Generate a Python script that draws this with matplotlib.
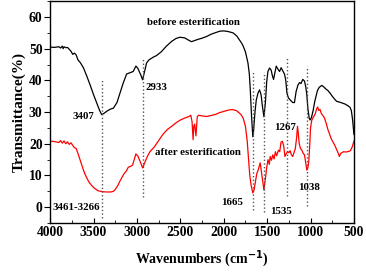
import matplotlib.pyplot as plt
from matplotlib.ticker import MultipleLocator

# before esterification (black)
wn_before = [4000, 3950, 3900, 3880, 3860, 3850, 3840, 3820, 3800, 3780, 3760, 3740, 3720, 3700,
             3680, 3650, 3617, 3580, 3540, 3500, 3464, 3430, 3407, 3380, 3340, 3300, 3272, 3230,
             3196, 3160, 3119, 3080, 3043, 3012, 2990, 2960, 2935, 2910, 2889, 2860, 2830, 2800,
             2775, 2720, 2660, 2600, 2550, 2506, 2450, 2400, 2372, 2340, 2300, 2250, 2200, 2150,
             2100, 2046, 2000, 1950, 1894, 1850, 1800, 1779, 1750, 1721, 1705, 1694, 1680, 1665,
             1655, 1640, 1625, 1605, 1587, 1570, 1555, 1537, 1520, 1505, 1491, 1472, 1453, 1440,
             1426, 1410, 1395, 1375, 1357, 1338, 1320, 1300, 1285, 1272, 1255, 1240, 1220, 1204,
             1185, 1166, 1145, 1127, 1110, 1089, 1070, 1055, 1043, 1030, 1015, 1005, 990, 970,
             950, 920, 900, 870, 850, 820, 800, 770, 750, 720, 700, 650, 600, 570, 545, 530, 515, 500]
t_before = [50.5, 50.4, 50.6, 50.2, 50.8, 50.0, 50.6, 50.3, 50.4, 49.8, 49.2, 48.2, 48.6, 48.0,
            46.5, 45.5, 44.0, 41.5, 38.6, 35.5, 32.9, 30.5, 29.2, 29.6, 30.4, 31.0, 31.2, 33.0,
            35.9, 39.0, 42.0, 42.4, 42.8, 44.5, 43.8, 42.0, 40.2, 43.0, 45.5, 46.5, 47.0, 47.5,
            47.8, 49.0, 50.8, 52.3, 53.2, 53.6, 53.4, 52.6, 52.2, 52.5, 52.9, 53.3, 53.8, 54.5,
            55.0, 55.5, 55.6, 55.4, 55.0, 54.0, 52.0, 51.0, 49.0, 45.5, 42.0, 37.0, 29.0, 22.2,
            24.5, 30.0, 33.8, 36.0, 37.0, 35.5, 32.0, 28.5, 33.0, 39.5, 42.8, 43.9, 43.2, 41.5,
            40.3, 42.5, 44.5, 43.5, 42.8, 44.0, 43.0, 42.0, 40.0, 36.0, 34.5, 34.0, 33.4, 33.0,
            33.0, 36.5, 38.5, 39.3, 39.0, 40.3, 39.8, 38.0, 35.5, 31.0, 28.0, 27.5, 28.2, 30.5,
            33.5, 36.8, 37.8, 38.4, 38.0, 37.2, 36.8, 35.8, 35.0, 34.0, 33.4, 33.0, 32.5, 32.0,
            31.5, 30.5, 27.5, 23.0]

# after esterification (red)
wn_after = [4000, 3950, 3900, 3880, 3860, 3840, 3820, 3800, 3780, 3760, 3740, 3720, 3700, 3680,
            3650, 3620, 3600, 3570, 3550, 3520, 3500, 3470, 3450, 3420, 3400, 3350, 3300, 3270,
            3250, 3220, 3200, 3170, 3150, 3120, 3100, 3070, 3050, 3030, 3012, 2990, 2960, 2935,
            2910, 2880, 2850, 2820, 2800, 2750, 2700, 2650, 2600, 2550, 2500, 2450, 2400, 2380,
            2365, 2353, 2345, 2335, 2320, 2305, 2290, 2250, 2200, 2150, 2100, 2050, 2000, 1950,
            1900, 1850, 1800, 1775, 1750, 1730, 1715, 1700, 1685, 1665, 1650, 1635, 1620, 1600,
            1580, 1565, 1550, 1537, 1520, 1505, 1490, 1475, 1465, 1450, 1435, 1420, 1405, 1390,
            1370, 1355, 1340, 1325, 1310, 1295, 1280, 1265, 1250, 1235, 1220, 1205, 1190, 1175,
            1160, 1150, 1140, 1130, 1115, 1100, 1085, 1070, 1055, 1043, 1030, 1020, 1010, 1000,
            985, 965, 945, 930, 917, 905, 890, 875, 860, 840, 820, 800, 780,
            760, 740, 720, 700, 680, 668, 650, 620, 590, 560, 540, 520, 500]
t_after = [20.8, 20.7, 20.4, 21.0, 20.2, 20.9, 20.0, 20.6, 19.8, 20.3, 19.5, 18.8, 18.5, 17.0,
           14.5, 12.0, 10.5, 8.8, 7.8, 6.8, 6.2, 5.6, 5.2, 5.0, 4.9, 4.8, 4.8, 5.0,
           5.6, 6.8, 8.0, 9.5, 10.5, 11.5, 12.6, 12.9, 13.3, 15.2, 16.8, 16.2, 14.2, 12.4,
           14.0, 16.0, 17.5, 18.4, 19.0, 21.0, 23.0, 24.5, 25.5, 26.6, 27.5, 28.1, 28.6, 29.0,
           27.0, 21.3, 25.5, 26.2, 22.5, 28.5, 29.0, 28.8, 28.6, 28.9, 29.2, 29.8, 30.2, 30.6,
           30.8, 30.4, 29.2, 28.0, 25.5, 21.0, 15.5, 10.0, 7.0, 4.5, 5.5, 8.0, 10.5, 12.0,
           14.0, 11.0, 8.0, 5.4, 9.0, 12.5, 15.0, 13.5, 16.0, 14.8, 16.5, 15.2, 17.5, 16.2,
           18.0, 17.5, 20.5, 20.8, 19.5, 16.0, 16.8, 17.6, 17.2, 17.8, 16.5, 16.0, 17.2, 18.5,
           22.0, 25.5, 23.0, 20.0, 18.5, 18.0, 17.0, 16.5, 14.0, 11.7, 12.5, 14.5, 19.0, 25.0,
           27.5, 28.5, 29.5, 31.0, 31.6, 30.5, 30.8, 29.5, 29.0, 28.2, 26.5, 24.5, 23.0,
           21.5, 20.5, 19.5, 18.2, 17.0, 16.0, 17.0, 17.5, 17.4, 17.6, 17.8, 19.0, 20.8]

# band positions: (wavenumber, line bottom, line top)
band_lines = [(3407, -3.4, 40.4), (2933, 3.3, 46.7), (1665, -0.9, 42.9),
              (1535, -1.5, 42.5), (1267, 3.5, 47.4), (1038, 0.3, 44.4)]

# annotation texts: (text, x center, y center)
labels = [("before esterification", 2353, 58.1), ("after esterification", 2295, 17.4),
          ("3407", 3612, 28.5), ("2933", 2780, 37.9), ("3461-3266", 3694, -0.2),
          ("1665", 1903, 1.4), ("1535", 1338, -1.3), ("1267", 1290, 25.0),
          ("1038", 1012, 6.3)]

plt.rcParams['font.family'] = ['Liberation Serif', 'DejaVu Serif']
plt.rcParams['font.weight'] = 'bold'

fig = plt.figure(figsize=(3.66, 2.73), dpi=100)
ax = fig.add_axes([0.137, 0.183, 0.830, 0.813])

ax.plot(wn_before, t_before, color='black', linewidth=0.9)
ax.plot(wn_after, t_after, color='red', linewidth=0.9)

for wn, lo, hi in band_lines:
    ax.plot([wn, wn], [lo, hi], color='#555555', linestyle=':', linewidth=1.0)

for txt, xc, yc in labels:
    ax.text(xc, yc, txt, ha='center', va='center', fontsize=7.8, fontweight='bold')

ax.set_xlim(4000, 500)
ax.set_ylim(-5, 65)
ax.xaxis.set_major_locator(MultipleLocator(500))
ax.xaxis.set_minor_locator(MultipleLocator(250))
ax.yaxis.set_major_locator(MultipleLocator(10))
ax.yaxis.set_minor_locator(MultipleLocator(5))
ax.tick_params(axis='x', which='both', direction='in', labelsize=9.8, pad=2)
ax.tick_params(axis='x', which='major', length=3.5)
ax.tick_params(axis='x', which='minor', length=2)
ax.tick_params(axis='y', which='both', direction='out', labelsize=9.8, pad=1.5)
ax.tick_params(axis='y', which='major', length=4)
ax.tick_params(axis='y', which='minor', length=2.2)
ax.set_yticks([0, 10, 20, 30, 40, 50, 60])
for lab in ax.get_xticklabels() + ax.get_yticklabels():
    lab.set_fontweight('bold')
for s in ax.spines.values():
    s.set_linewidth(1.0)

ax.set_xlabel('Wavenumbers (cm$^{\\mathbf{-1}}$)', fontsize=10, fontweight='bold', labelpad=7)
ax.set_ylabel('Transmittance(%)', fontsize=11, fontweight='bold', labelpad=2)

fig.savefig('out.png', dpi=100)
